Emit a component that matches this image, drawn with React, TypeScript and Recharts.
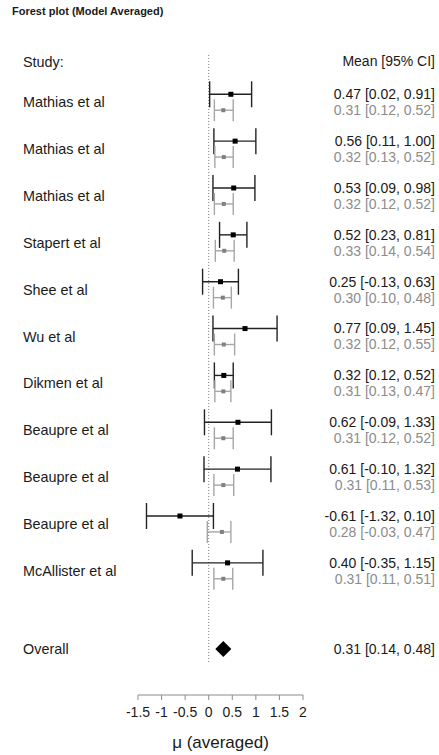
import React from 'react'
import { ComposedChart, Scatter, ErrorBar, XAxis, YAxis, ReferenceLine } from 'recharts'

const STUDIES = [
  'Mathias et al',
  'Mathias et al',
  'Mathias et al',
  'Stapert et al',
  'Shee et al',
  'Wu et al',
  'Dikmen et al',
  'Beaupre et al',
  'Beaupre et al',
  'Beaupre et al',
  'McAllister et al',
]
const OBS_MEAN = [0.47, 0.56, 0.53, 0.52, 0.25, 0.77, 0.32, 0.62, 0.61, -0.61, 0.4]
const OBS_LO = [0.02, 0.11, 0.09, 0.23, -0.13, 0.09, 0.12, -0.09, -0.1, -1.32, -0.35]
const OBS_HI = [0.91, 1.0, 0.98, 0.81, 0.63, 1.45, 0.52, 1.33, 1.32, 0.1, 1.15]
const EST_MEAN = [0.31, 0.32, 0.32, 0.33, 0.3, 0.32, 0.31, 0.31, 0.31, 0.28, 0.31]
const EST_LO = [0.12, 0.13, 0.12, 0.14, 0.1, 0.12, 0.13, 0.12, 0.11, -0.03, 0.11]
const EST_HI = [0.52, 0.52, 0.52, 0.54, 0.48, 0.55, 0.47, 0.52, 0.53, 0.47, 0.51]
const OVERALL_MEAN = 0.31
const OVERALL_LO = 0.14
const OVERALL_HI = 0.48
const X_TICKS = [-1.5, -1, -0.5, 0, 0.5, 1, 1.5, 2]

// row layout (in row units, top to bottom)
const HEADER_ROW = -0.7
const EST_OFFSET = 0.34
const OVERALL_ROW = 11.84

const FONT = '"Liberation Sans", Arial, Helvetica, sans-serif'
const DARK = '#1a1a1a'
const GRAY = '#8c8c8c'

const fmt = (v: number) => v.toFixed(2)
const ci = (m: number, l: number, h: number) => `${fmt(m)} [${fmt(l)}, ${fmt(h)}]`
const key = (v: number) => v.toFixed(3)

const obsData = STUDIES.map((_, i) => ({
  x: OBS_MEAN[i],
  y: i,
  err: [OBS_MEAN[i] - OBS_LO[i], OBS_HI[i] - OBS_MEAN[i]],
}))
const estData = STUDIES.map((_, i) => ({
  x: EST_MEAN[i],
  y: i + EST_OFFSET,
  err: [EST_MEAN[i] - EST_LO[i], EST_HI[i] - EST_MEAN[i]],
}))
const overallData = [
  { x: OVERALL_LO, y: OVERALL_ROW, role: 'lo' },
  { x: OVERALL_MEAN, y: OVERALL_ROW, role: 'mean' },
  { x: OVERALL_HI, y: OVERALL_ROW, role: 'hi' },
]

// study names on the left
const leftLabels = new Map<string, string>()
leftLabels.set(key(HEADER_ROW), 'Study:')
STUDIES.forEach((s, i) => leftLabels.set(key(i + EST_OFFSET / 2), s))
leftLabels.set(key(OVERALL_ROW), 'Overall')

// estimates on the right
const rightLabels = new Map<string, { text: string; color: string }>()
rightLabels.set(key(HEADER_ROW), { text: 'Mean [95% CI]', color: DARK })
STUDIES.forEach((_, i) => {
  rightLabels.set(key(i), { text: ci(OBS_MEAN[i], OBS_LO[i], OBS_HI[i]), color: DARK })
  rightLabels.set(key(i + EST_OFFSET), { text: ci(EST_MEAN[i], EST_LO[i], EST_HI[i]), color: GRAY })
})
rightLabels.set(key(OVERALL_ROW), { text: ci(OVERALL_MEAN, OVERALL_LO, OVERALL_HI), color: DARK })

const rowTicks = [
  HEADER_ROW,
  ...STUDIES.flatMap((_, i) => [i, i + EST_OFFSET / 2, i + EST_OFFSET]),
  OVERALL_ROW,
]

const Y_DOMAIN: [number, number] = [-1.5, 12.82]

function RowTick(props: any) {
  const { y, payload } = props
  const left = leftLabels.get(key(payload.value))
  const right = rightLabels.get(key(payload.value))
  return (
    <g>
      {left && (
        <text x={23} y={y} dy="0.35em" fontSize={14.4} fill={DARK} fontFamily={FONT}>
          {left}
        </text>
      )}
      {right && (
        <text x={435} y={y} dy="0.35em" fontSize={14} fill={right.color} textAnchor="end" fontFamily={FONT}>
          {right.text}
        </text>
      )}
    </g>
  )
}

const diamondX: Record<string, number> = {}
function DiamondShape(props: any) {
  const { cx, cy, payload } = props
  diamondX[payload.role] = cx
  if (payload.role !== 'hi') return <g />
  const l = diamondX.lo
  const m = diamondX.mean
  const r = diamondX.hi
  return <polygon points={`${l},${cy} ${m},${cy - 8} ${r},${cy} ${m},${cy + 8}`} fill="#000" />
}

const ObsPoint = (props: any) => (
  <rect x={props.cx - 2.5} y={props.cy - 2.5} width={5} height={5} fill="#000" />
)
const EstPoint = (props: any) => (
  <rect x={props.cx - 2} y={props.cy - 2} width={4} height={4} fill="#808080" />
)

export default function App() {
  return (
    <div style={{ position: 'absolute', left: 0, top: 0, width: 439, height: 755, background: '#fff', fontFamily: FONT }}>
      <div style={{ position: 'absolute', left: 12, top: 5, fontSize: 11, fontWeight: 700, color: DARK }}>
        Forest plot (Model Averaged)
      </div>
      <ComposedChart width={439} height={755} margin={{ top: 24, right: 136, bottom: 0, left: 0 }}>
        <XAxis
          type="number"
          dataKey="x"
          domain={[-1.5, 2]}
          ticks={X_TICKS}
          interval={0}
          allowDataOverflow
          height={60}
          tickSize={5}
          tickMargin={7}
          axisLine={{ stroke: '#8c8c8c' }}
          tickLine={{ stroke: '#8c8c8c' }}
          tick={{ fontSize: 14, fill: DARK, fontFamily: FONT }}
          label={{ value: 'μ (averaged)', position: 'insideBottom', offset: 7, fontSize: 17, fill: DARK, fontFamily: FONT }}
        />
        <YAxis
          type="number"
          dataKey="y"
          orientation="left"
          width={138}
          domain={Y_DOMAIN}
          reversed
          ticks={rowTicks}
          interval={0}
          axisLine={false}
          tickLine={false}
          tick={<RowTick />}
        />
        <ReferenceLine
          segment={[
            { x: 0, y: -0.84 },
            { x: 0, y: 12.14 },
          ]}
          stroke="#777"
          strokeDasharray="1 2"
          strokeWidth={1}
        />
        <Scatter data={obsData} shape={<ObsPoint />} isAnimationActive={false}>
          <ErrorBar dataKey="err" direction="x" width={13} stroke="#222" strokeWidth={1.4} />
        </Scatter>
        <Scatter data={estData} shape={<EstPoint />} isAnimationActive={false}>
          <ErrorBar dataKey="err" direction="x" width={11} stroke="#a6a6a6" strokeWidth={1.4} />
        </Scatter>
        <Scatter data={overallData} shape={DiamondShape} isAnimationActive={false} />
      </ComposedChart>
    </div>
  )
}
